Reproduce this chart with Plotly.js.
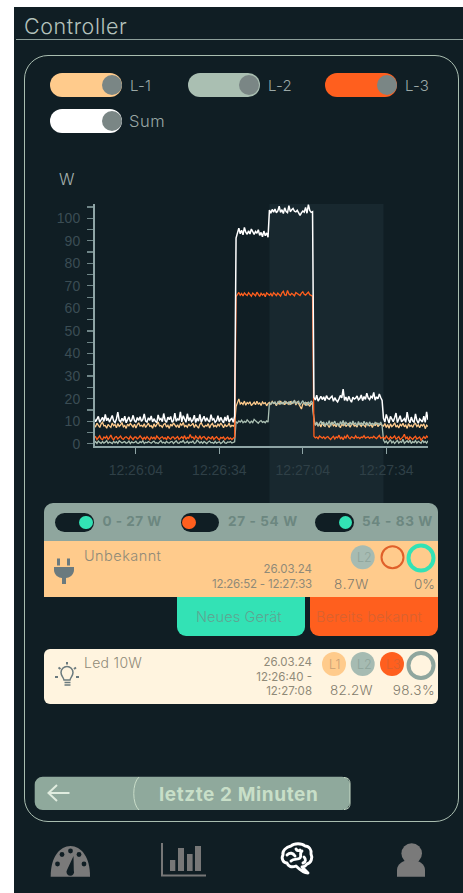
<!DOCTYPE html>
<html>
<head>
<meta charset="utf-8">
<script src="https://cdn.plot.ly/plotly-3.0.1.min.js"></script>
<style>
html,body{margin:0;padding:0;background:#fff;width:463px;height:893px;overflow:hidden}
#app{position:absolute;left:14px;top:7px;width:449px;height:886px;background:#101e24}
.a{position:absolute;white-space:nowrap;font-family:"Inter","Noto Sans",sans-serif;line-height:1;transform:translateY(-50%)}
.b{position:absolute}
.pill{position:absolute;width:72px;height:24.5px;border-radius:13px}
.knob{position:absolute;border-radius:50%}
#chart{position:absolute;left:40px;top:160px;width:400px;height:350px}
svg{position:absolute;left:0;top:0}
</style>
</head>
<body>
<div id="app"></div>
<div class="b" style="left:16px;top:39px;width:447px;height:1.2px;background:#8d9f9a"></div>
<div class="a" style="left:24px;top:26.5px;font-size:21.5px;font-weight:300;letter-spacing:0.55px;color:#b4c2bc">Controller</div>
<div class="b" style="left:24px;top:55px;width:433px;height:765px;border:1.3px solid #a9bdb0;border-radius:24px"></div>

<div class="pill" style="left:50px;top:72.5px;background:#ffcb8c"></div><div class="knob" style="left:101.5px;top:74.5px;width:20px;height:20px;background:#7a8685"></div>
<div class="a" style="left:130px;top:85px;font-size:15px;font-weight:300;letter-spacing:0.2px;color:#9aa8a6">L-1</div>
<div class="pill" style="left:188px;top:72.5px;background:#aabfb2"></div><div class="knob" style="left:239px;top:74.5px;width:20px;height:20px;background:#7a8685"></div>
<div class="a" style="left:268px;top:85px;font-size:15px;font-weight:300;letter-spacing:0.2px;color:#9aa8a6">L-2</div>
<div class="pill" style="left:325px;top:72.5px;background:#ff5f1e"></div><div class="knob" style="left:377px;top:74.5px;width:20px;height:20px;background:#7a8685"></div>
<div class="a" style="left:405px;top:85px;font-size:15px;font-weight:300;letter-spacing:0.2px;color:#9aa8a6">L-3</div>
<div class="pill" style="left:50px;top:108.5px;background:#ffffff"></div><div class="knob" style="left:101.5px;top:110.5px;width:20px;height:20px;background:#7a8685"></div>
<div class="a" style="left:129px;top:121px;font-size:16.5px;font-weight:300;letter-spacing:0.6px;color:#9aa8a6">Sum</div>

<div id="chart"></div>

<!-- device panel -->
<div class="b" style="left:44px;top:502.5px;width:394px;height:39px;background:#8fa69e;border-radius:9px 9px 0 0"></div>
<div class="b" style="left:44px;top:541px;width:394px;height:56px;background:#ffcb8c"></div>
<div class="b" style="left:177px;top:597px;width:128px;height:39px;background:#33e2b5;border-radius:0 0 9px 9px"></div>
<div class="b" style="left:310px;top:597px;width:128px;height:39px;background:#ff5f1e;border-radius:0 0 9px 9px"></div>
<div class="b" style="left:44px;top:648.5px;width:394px;height:55px;background:#fff4df;border-radius:6px"></div>

<div class="b" style="left:55px;top:512.5px;width:38.5px;height:19.5px;background:#101e24;border-radius:10px"></div><div class="knob" style="left:79px;top:515.5px;width:13.5px;height:13.5px;background:#33e2b5"></div>
<div class="b" style="left:180.5px;top:512.5px;width:38.5px;height:19.5px;background:#101e24;border-radius:10px"></div><div class="knob" style="left:182px;top:515.5px;width:13.5px;height:13.5px;background:#ff5f1e"></div>
<div class="b" style="left:315px;top:512.5px;width:38.5px;height:19.5px;background:#101e24;border-radius:10px"></div><div class="knob" style="left:338.5px;top:515.5px;width:13.5px;height:13.5px;background:#33e2b5"></div>
<div class="a" style="left:102.5px;top:522px;font-size:13.5px;font-weight:700;letter-spacing:0.5px;color:#6c8780">0 - 27 W</div>
<div class="a" style="left:228px;top:522px;font-size:13.5px;font-weight:700;letter-spacing:0.65px;color:#6c8780">27 - 54 W</div>
<div class="a" style="left:362px;top:522px;font-size:13.5px;font-weight:700;letter-spacing:0.65px;color:#6c8780">54 - 83 W</div>

<div class="a" style="left:84px;top:556px;font-size:14.5px;font-weight:300;letter-spacing:0.45px;color:#8f8a78">Unbekannt</div>
<div class="a" style="right:151px;top:570px;font-size:11.5px;color:#8f8a78">26.03.24</div>
<div class="a" style="right:151px;top:584.5px;font-size:11.5px;letter-spacing:-0.2px;color:#8f8a78">12:26:52 - 12:27:33</div>
<div class="a" style="left:334px;top:584.5px;font-size:13.5px;font-weight:300;letter-spacing:0.7px;color:#7f7b6c">8.7W</div>
<div class="a" style="right:28px;top:584.5px;font-size:13.5px;font-weight:300;color:#7f7b6c">0%</div>

<div class="a" style="left:196px;top:617px;font-size:14.5px;font-weight:300;letter-spacing:0.1px;color:#5fa592">Neues Gerät</div>
<div class="a" style="left:316px;top:617px;font-size:14.5px;font-weight:300;letter-spacing:0.1px;color:#d9622f">Bereits bekannt</div>

<div class="a" style="left:84px;top:663px;font-size:14px;font-weight:300;letter-spacing:0.3px;color:#8f8a78">Led 10W</div>
<div class="a" style="right:151px;top:663px;font-size:11.5px;color:#8f8a78">26.03.24</div>
<div class="a" style="right:151px;top:677.5px;font-size:11.5px;color:#8f8a78">12:26:40 -</div>
<div class="a" style="right:151px;top:692px;font-size:11.5px;color:#8f8a78">12:27:08</div>
<div class="a" style="left:330px;top:691px;font-size:13.5px;font-weight:300;letter-spacing:0.2px;color:#7f7b6c">82.2W</div>
<div class="a" style="right:28px;top:691px;font-size:13.5px;font-weight:300;letter-spacing:0.4px;color:#7f7b6c">98.3%</div>

<svg width="463" height="893" viewBox="0 0 463 893" style="pointer-events:none">
  <!-- row rings -->
  <circle cx="362.7" cy="557.3" r="12" fill="#a6bbb2"/>
  <circle cx="392.5" cy="557.3" r="11" fill="none" stroke="#e0602a" stroke-width="2"/>
  <circle cx="421" cy="558" r="12.5" fill="none" stroke="#33e2b5" stroke-width="4"/>
  <circle cx="334" cy="664" r="12" fill="#ffcb8c"/>
  <circle cx="362.7" cy="664" r="12" fill="#a6bbb2"/>
  <circle cx="392" cy="664" r="12" fill="#ff5f1e"/>
  <circle cx="421" cy="665.5" r="12.5" fill="none" stroke="#8fa69e" stroke-width="4"/>
  <!-- plug -->
  <g fill="#6b7a7e">
    <rect x="57" y="558.5" width="3" height="7"/><rect x="67" y="558.5" width="3" height="7"/>
    <path d="M54 567H74V570C74 575 69 578 66 578V584H62V578C59 578 54 575 54 570Z"/>
  </g>
  <!-- bulb -->
  <g fill="none" stroke="#6b7a7e" stroke-width="1.5">
    <path d="M64.5 685H70.5M64.5 682.5H70.5M64 680C63.5 677 61 676 61 672.5A6 6 0 0 1 73 672.5C73 676 70.5 677 70 680Z"/>
    <path d="M55 678H58M76 678H79M58.5 668.5L60.5 670M76 668.5L74 670M67 663V665.5" stroke-width="2" transform="translate(0,-1)"/>
  </g>
  <!-- back button -->
  <rect x="34.7" y="776.7" width="315.3" height="33.3" rx="8" fill="#8fa99c"/>
  <path d="M139 777C132 783 132 804 139 810M344 777.5C349 778 350 780 350 784V803C350 807 349 809 344 809.5" fill="none" stroke="#c8dcc8" stroke-width="1"/>
  <path d="M69.5 793H49M57 785L48.5 793L57 801" fill="none" stroke="#e0ecdf" stroke-width="2"/>
  <!-- gauge -->
  <path d="M50.7 876.7C50.5 857 60 846 70.5 846C81 846 90.2 857 90 876.7Z" fill="#7a7a7a"/>
  <g fill="#101e24">
    <circle cx="57.5" cy="864" r="2.4"/><circle cx="62" cy="854.5" r="2.4"/><circle cx="70.5" cy="851" r="2.4"/><circle cx="79" cy="854.5" r="2.4"/><circle cx="84" cy="864" r="2.4"/>
    <path d="M73.5 856L73.8 870.5A3.8 3.8 0 1 1 67 870Z"/>
  </g>
  <!-- bars -->
  <path d="M162 843V875.5H206" fill="none" stroke="#777" stroke-width="2"/>
  <g fill="#777"><rect x="170" y="860" width="5.3" height="11"/><rect x="178" y="848" width="6" height="23"/><rect x="187" y="854" width="5.6" height="17"/><rect x="195" y="846" width="6" height="25"/></g>
  <!-- brain -->
  <g fill="none" stroke="#fff" stroke-width="2.9" stroke-linejoin="round" stroke-linecap="round">
    <path d="M291 846C294 843 302 843 305 846C309 846 312 850 311 854C313 858 311 863 307 864C305 867 303 867 302 867L308 873C304 873 298 868 296 866C291 868 288 866 287 863C283 863 281 858 283 855C282 851 286 847 291 846Z"/>
    <path d="M287 855C290 852 293 853 295 856M291 861C294 858 298 860 300 858C302 856 299 853 302 851M304 857C306 859 306 862 303 863M296 849C297 851 299 851 300 850"/>
  </g>
  <!-- person -->
  <g fill="#7a7a7a"><circle cx="411.7" cy="853.5" r="10.3"/><path d="M397 876.7V870C397 864 403 860 411 860C419 860 425 864 425 870V876.7Z"/></g>
</svg>
<div class="a" style="left:357px;top:557.5px;font-size:12.5px;font-weight:300;color:#8ea49b">L2</div>
<div class="a" style="left:329px;top:664.5px;font-size:12.5px;font-weight:300;color:#c9a074">L1</div>
<div class="a" style="left:357px;top:664.5px;font-size:12.5px;font-weight:300;color:#8ea49b">L2</div>
<div class="a" style="left:386px;top:664.5px;font-size:12.5px;font-weight:300;color:#d9622f">L3</div>
<div class="a" style="left:159px;top:793.5px;font-size:19px;font-weight:700;letter-spacing:0.6px;color:#c8dfc8">letzte 2 Minuten</div>

<script>
var startTime = '2024-03-26 12:25:49';
var sampleMs = 500;
var rangeX = ['2024-03-26 12:25:49.3', '2024-03-26 12:27:49'];
var bandX = ['2024-03-26 12:26:52', '2024-03-26 12:27:33'];
var firstTick = '2024-03-26 12:26:04';
var seriesNames = ['L-1', 'L-2', 'L-3', 'Sum'];
var seriesColors = ['#ffcb8c', '#aabfb2', '#ff5f1e', '#ffffff'];

var l1 = [
 8.2,7.6,9.1,8.4,7.2,8.8,9.5,7.9,8.1,6.9,
 8.6,7.8,7.3,9.2,8.0,8.5,7.1,8.9,7.7,8.3,
 9.4,7.5,8.1,6.8,8.7,7.9,9.0,8.2,7.4,8.6,
 7.0,8.4,9.3,7.8,8.2,7.6,8.9,7.2,8.5,9.1,
 7.7,8.0,6.9,8.8,7.5,8.3,9.6,7.9,8.1,7.3,
 8.6,9.0,7.4,8.2,6.8,8.7,7.8,9.2,8.0,7.5,
 8.4,7.1,8.9,8.2,9.4,7.6,8.1,7.3,8.8,7.9,
 8.3,9.1,7.2,8.5,7.7,6.9,8.6,9.3,8.0,7.4,
 8.2,7.8,8.9,7.0,8.4,9.0,7.6,8.1,7.5,8.7,
 7.9,9.2,8.3,7.1,8.5,7.7,8.0,9.1,7.4,8.2,
 7.8,8.4,
 16.5,18.8,19.9,17.6,18.2,17.4,18.9,17.1,18.3,17.7,
 18.6,16.9,17.9,18.4,17.3,18.8,17.6,18.1,17.0,18.5,
 17.8,18.2,16.8,17.9,
 18.3,17.5,18.7,17.9,18.1,16.9,18.4,17.6,18.9,17.8,
 18.2,17.3,18.6,18.0,17.4,18.8,17.7,18.3,19.0,17.2,
 18.5,17.8,16.2,15.4,17.6,18.1,17.0,18.4,17.5,16.6,
 17.9,17.3,
 11.0,8.4,9.2,7.8,8.9,7.4,9.5,8.1,7.7,9.0,
 8.3,7.2,8.8,9.4,7.9,8.5,7.5,9.1,8.2,7.1,
 8.7,8.0,9.3,7.6,8.4,8.9,7.3,8.6,9.0,7.8,
 8.2,7.4,9.2,8.5,7.7,8.8,8.1,7.5,9.1,8.3,
 7.9,8.6,7.2,8.9,8.0,9.3,7.6,8.4,8.7,8.1,
 7.8,9.0,7.2,8.5,6.9,8.8,7.6,8.2,9.3,7.4,
 8.1,7.0,8.6,7.9,9.1,7.5,8.3,6.8,8.9,7.7,
 8.2,7.3,8.7,9.0,7.6,8.4,7.1,8.5,7.9,8.8,
 6.7,8.2,7.6
];

var l2 = [
 0.4,0.9,0.1,1.2,0.6,0.2,1.0,0.3,0.7,1.4,
 0.2,0.8,0.5,0.1,1.1,0.4,0.9,0.2,1.3,0.6,
 0.3,0.7,1.0,0.2,0.5,1.2,0.1,0.8,0.4,0.6,
 1.1,0.3,0.2,0.9,0.5,1.3,0.1,0.7,0.4,1.0,
 0.6,0.2,0.8,1.2,0.3,0.5,0.1,0.9,1.4,0.4,
 0.7,0.2,1.1,0.5,0.3,0.8,1.0,0.1,0.6,1.3,
 0.4,0.2,0.9,0.7,1.5,0.3,0.5,1.1,0.2,0.8,
 0.6,1.2,0.1,0.4,1.6,0.7,0.3,0.9,0.2,1.0,
 0.5,0.1,0.8,1.2,0.4,0.6,0.2,1.1,0.3,0.7,
 0.9,0.1,0.5,1.3,0.4,0.2,0.8,0.6,1.0,0.3,
 0.5,0.9,
 9.8,9.2,10.1,9.6,10.4,9.3,9.9,9.5,10.6,9.7,
 9.2,10.0,9.4,10.8,10.2,9.6,9.1,9.9,10.3,9.5,
 9.8,9.3,10.1,9.6,
 18.1,17.6,18.4,17.9,18.6,17.4,18.2,18.9,17.7,18.3,
 17.5,19.0,18.1,17.8,18.5,17.3,18.7,18.0,19.3,17.6,
 18.4,18.8,17.2,18.1,19.1,17.7,18.3,16.9,18.6,17.5,
 19.0,18.2,
 9.9,8.1,9.6,7.9,9.2,10.1,8.4,9.7,7.7,9.3,
 8.6,10.2,7.8,9.4,8.9,10.0,8.2,9.1,7.6,9.8,
 8.5,10.3,8.0,9.5,8.8,7.9,9.6,8.3,10.1,8.7,
 9.2,7.8,9.9,8.4,9.4,8.1,10.0,8.6,9.3,7.9,
 9.7,8.5,9.0,8.2,9.5,8.8,9.1,8.4,9.6,8.0,
 1.6,0.5,1.2,0.2,0.9,1.8,0.4,1.1,0.1,0.7,
 1.5,0.3,1.0,0.6,2.0,0.2,0.8,1.3,0.4,1.7,
 0.1,0.9,0.5,1.4,0.3,1.1,0.7,0.2,1.6,0.5,
 1.0,0.3,1.3
];

var l3 = [
 2.6,3.1,1.9,2.8,3.5,2.2,1.8,3.0,2.5,3.3,
 2.0,2.7,3.9,2.4,1.7,2.9,3.2,2.1,2.6,3.4,
 2.3,1.9,2.8,3.1,2.5,2.0,3.3,2.7,1.8,2.9,
 3.0,2.2,2.6,3.5,2.4,1.9,2.8,2.1,3.2,2.5,
 1.7,3.0,2.3,2.9,1.9,3.4,2.6,2.0,2.8,3.1,
 2.2,2.7,1.8,3.3,2.4,2.0,2.9,3.0,2.1,2.6,
 3.2,1.9,2.5,3.1,2.3,3.6,2.0,2.8,2.4,4.1,
 2.7,3.0,1.9,3.4,2.6,2.2,3.5,2.1,2.9,3.2,
 2.4,1.8,3.0,2.7,2.2,3.3,1.9,2.6,3.1,2.3,
 1.7,2.8,2.5,3.0,1.8,2.4,2.9,2.0,2.6,1.9,
 2.3,3.0,
 65.2,66.4,67.1,65.8,66.6,65.5,66.9,66.2,65.7,67.0,
 66.3,65.4,66.8,66.0,65.6,67.2,66.1,65.3,66.7,65.9,
 66.5,65.2,66.9,66.2,
 65.8,66.6,65.4,67.0,66.1,65.7,66.8,66.3,65.5,66.9,
 67.6,66.0,65.8,68.0,66.4,65.9,66.7,66.2,65.6,67.1,
 66.5,66.0,65.7,66.8,67.4,66.3,65.9,66.6,67.2,66.1,
 65.6,65.4,
 3.3,2.6,3.0,2.3,3.4,2.8,2.5,3.1,2.2,2.9,
 3.2,2.4,1.9,2.7,3.3,2.1,3.0,2.6,3.8,2.3,
 2.9,1.8,3.2,2.5,4.0,2.7,2.2,3.1,2.8,2.4,
 3.5,2.6,2.9,2.3,3.0,2.7,3.6,2.5,2.8,3.1,
 2.4,2.9,2.6,3.3,2.7,2.3,3.0,3.7,2.5,2.8,
 2.9,2.2,3.4,2.6,1.9,3.1,2.4,2.8,3.5,2.0,
 2.7,3.2,1.8,2.5,3.0,4.2,2.3,2.9,1.7,3.1,
 2.4,1.9,2.8,3.3,2.1,2.6,3.0,1.6,2.7,3.2,
 2.2,3.4,2.8
];

var sum = [
 11.2,9.8,10.9,12.1,9.5,10.6,11.7,9.9,13.0,10.2,
 11.4,9.6,10.8,12.5,10.1,9.4,11.0,14.0,10.4,9.7,
 11.3,10.0,12.2,9.3,10.7,11.9,9.8,10.5,12.6,10.2,
 9.5,11.6,10.3,12.0,9.9,10.8,13.2,10.1,9.6,11.5,
 10.4,12.3,9.7,11.1,10.0,9.4,12.8,10.6,11.2,9.8,
 13.4,10.3,9.5,11.8,10.7,12.1,9.6,10.2,13.6,9.9,
 11.0,10.4,14.1,9.7,12.4,10.9,9.5,13.3,10.1,11.6,
 9.8,10.5,12.7,9.4,11.3,10.0,13.0,9.6,10.8,12.2,
 9.9,11.5,10.3,9.7,12.9,10.6,11.1,9.5,10.2,12.4,
 9.8,11.7,10.4,9.3,11.9,10.1,12.6,9.6,10.7,11.2,
 9.5,12.3,
 91.2,93.4,95.6,93.1,94.7,92.6,95.9,93.8,92.9,94.4,
 93.0,95.2,93.6,92.8,94.1,93.3,94.9,92.4,93.7,91.8,
 94.3,92.2,93.5,91.6,
 103.6,102.2,103.9,102.7,104.1,102.4,103.2,105.3,102.6,103.8,
 102.1,104.6,103.0,102.5,105.6,102.9,103.7,104.3,103.1,102.8,
 103.5,102.0,101.3,102.4,103.2,102.7,104.8,102.2,106.0,103.4,
 102.6,102.9,
 20.6,19.4,21.5,18.9,20.2,21.0,19.6,20.8,19.1,21.3,
 20.1,19.7,20.5,21.1,18.8,20.4,19.3,18.6,19.9,21.4,
 20.3,24.2,19.2,20.7,18.9,21.0,19.5,18.4,20.6,19.8,
 20.2,21.2,19.4,20.0,21.6,19.1,20.9,19.7,22.4,20.3,
 19.6,21.0,20.4,22.8,19.3,20.8,19.9,22.1,20.5,19.2,
 11.3,9.6,13.0,10.4,9.2,12.1,10.7,9.8,11.5,13.6,
 9.4,10.9,12.4,9.7,10.2,11.1,9.5,14.0,10.6,9.3,
 11.8,10.1,9.6,13.2,10.4,9.1,11.0,10.3,9.7,12.2,
 9.5,14.1,10.6
];

var allSeries = [l1, l2, l3, sum];
var traces = allSeries.map(function (vals, i) {
  return {
    type: 'scatter', mode: 'lines', name: seriesNames[i], y: vals,
    x0: startTime, dx: sampleMs,
    line: { color: seriesColors[i], width: i === 3 ? 1.5 : 1.3 }
  };
});

var tickFont = { family: 'Liberation Sans, Arial, sans-serif', size: 14 };
var layout = {
  width: 400, height: 350,
  margin: { l: 55, r: 11.7, t: 44.3, b: 64 },
  paper_bgcolor: 'rgba(0,0,0,0)', plot_bgcolor: 'rgba(0,0,0,0)',
  showlegend: false,
  xaxis: {
    type: 'date', range: rangeX, tick0: firstTick, dtick: 30000, tickformat: '%H:%M:%S',
    showgrid: false, zeroline: false, showline: true, linecolor: '#8fa5a6', linewidth: 2,
    ticks: 'outside', ticklen: 6, tickwidth: 1.2, tickcolor: '#8fa5a6',
    ticklabelstandoff: 4, tickfont: Object.assign({ color: '#2f4047' }, tickFont)
  },
  yaxis: {
    range: [-1, 106.3], tick0: 0, dtick: 10,
    showgrid: false, zeroline: false, showline: true, linecolor: '#8fa5a6', linewidth: 2,
    ticks: 'outside', ticklen: 6, tickwidth: 1.2, tickcolor: '#6f8587',
    minor: { dtick: 5, ticks: 'outside', ticklen: 6, tickwidth: 1.2, tickcolor: '#6f8587', showgrid: false },
    ticklabelstandoff: 4, tickfont: Object.assign({ color: '#3b4d54' }, tickFont)
  },
  shapes: [{
    type: 'rect', layer: 'below', xref: 'x', yref: 'paper',
    x0: bandX[0], x1: bandX[1], y0: -0.24, y1: 1,
    fillcolor: '#18282f', line: { width: 0 }
  }],
  annotations: [{
    text: 'W', xref: 'paper', yref: 'paper', x: -0.084, y: 1.103, showarrow: false,
    xanchor: 'center', yanchor: 'middle',
    font: { family: 'Inter, Noto Sans, sans-serif', size: 16, color: '#a5b1ae', weight: 300 }
  }]
};
Plotly.newPlot('chart', traces, layout, { staticPlot: true, displayModeBar: false });
</script>
</body>
</html>
